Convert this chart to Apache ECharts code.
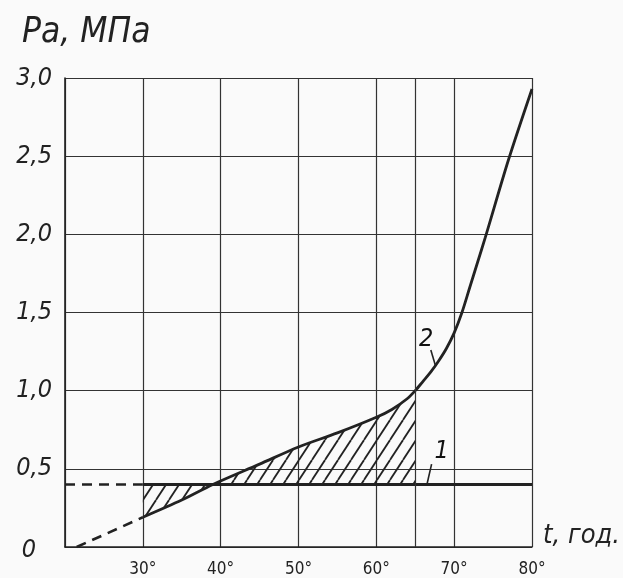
<!DOCTYPE html>
<html>
<head>
<meta charset="utf-8">
<script src="https://cdn.jsdelivr.net/npm/echarts@6/dist/echarts.min.js"></script>
<style>html,body{margin:0;padding:0;background:#fafafa;}#c{width:623px;height:578px;}</style>
</head>
<body>
<div id="c"></div>
<script>
// ---- data ----
const xTickValues = [30, 40, 50, 60, 70, 80];
const xTickLabels = ['30°', '40°', '50°', '60°', '70°', '80°'];
const yTickValues = [0, 0.5, 1.0, 1.5, 2.0, 2.5, 3.0];
const yTickLabels = ['0', '0,5', '1,0', '1,5', '2,0', '2,5', '3,0'];

// line 1 (constant level)
const line1DashedX = [20, 30];
const line1DashedY = [0.4, 0.4];
const line1X = [30, 80];
const line1Y = [0.4, 0.4];

// curve 2
const curve2DashedX = [21.5, 30];
const curve2DashedY = [0, 0.19];
const curve2X = [30, 35, 39, 45, 50, 55, 60, 62, 64, 65, 66, 67, 68, 69, 70, 71, 72, 73, 74, 77, 80];
const curve2Y = [0.19, 0.30, 0.40, 0.53, 0.64, 0.73, 0.83, 0.88, 0.95, 1.00, 1.06, 1.12, 1.19, 1.27, 1.37, 1.50, 1.66, 1.82, 1.98, 2.48, 2.93];

// hatched zone limits and extra grid line
const hatchFrom = 30, hatchTo = 65;
const extraGridX = [65];

// annotations
const label1 = { text: '1', x: 68.4, y: 0.61 };
const leader1X = [67.1, 66.5], leader1Y = [0.53, 0.40];
const label2 = { text: '2', x: 66.4, y: 1.33 };
const leader2X = [67.0, 67.6], leader2Y = [1.26, 1.16];

const yAxisName = 'Pa, МПа';
const xAxisName = 't, год.';

// ---- helpers ----
const zip = (xs, ys) => xs.map((x, i) => [x, ys[i]]);
const ink = '#222';
const hand = "'DejaVu Sans Condensed','Liberation Sans Narrow','Liberation Sans',sans-serif";

const pc = document.createElement('canvas');
pc.width = 13; pc.height = 20;
const pctx = pc.getContext('2d');
pctx.strokeStyle = '#222'; pctx.lineWidth = 1.8;
[-13, 0, 13].forEach(o => { pctx.beginPath(); pctx.moveTo(o, 20); pctx.lineTo(o + 13, 0); pctx.stroke(); });

const curvePts = zip(curve2X, curve2Y).filter(p => p[0] >= hatchFrom && p[0] <= hatchTo);
const line1Level = line1Y[0];

const chart = echarts.init(document.getElementById('c'), null, { renderer: 'canvas' });
chart.setOption({
  backgroundColor: '#fafafa',
  animation: false,
  grid: { left: 65, right: 91, top: 78, bottom: 31 },
  xAxis: {
    type: 'value', min: 20, max: 80, interval: 10,
    axisLine: { show: true, lineStyle: { color: ink, width: 1.6 } },
    axisTick: { show: false },
    splitLine: { show: true, lineStyle: { color: '#333', width: 1.2 } },
    axisLabel: {
      margin: 14, color: ink, fontSize: 17, fontFamily: hand,
      formatter: v => { const i = xTickValues.indexOf(v); return i >= 0 ? xTickLabels[i] : ''; }
    }
  },
  yAxis: {
    type: 'value', min: 0, max: 3, interval: 0.5,
    axisLine: { show: true, lineStyle: { color: ink, width: 1.6 } },
    axisTick: { show: false },
    splitLine: { show: true, lineStyle: { color: '#333', width: 1.2 } },
    axisLabel: {
      margin: 13, color: ink, fontSize: 25, fontStyle: 'italic', fontFamily: hand,
      formatter: v => {
        const i = yTickValues.findIndex(t => Math.abs(t - v) < 1e-9);
        if (i < 0) return '';
        return v === 0 ? '{z|' + yTickLabels[i] + '}' : yTickLabels[i];
      },
      rich: { z: { fontSize: 25, fontStyle: 'italic', fontFamily: hand, color: ink, padding: [6, 16, 0, 0] } }
    }
  },
  graphic: [
    { type: 'text', left: 22, top: 15, style: { text: yAxisName, fontSize: 35, fontStyle: 'italic', fontFamily: hand, fill: ink } },
    { type: 'text', left: 543, top: 522, style: { text: xAxisName, fontSize: 27, fontStyle: 'italic', fontFamily: hand, fill: ink } }
  ],
  series: [
    {
      type: 'custom', silent: true, z: 1,
      data: [0],
      renderItem: (params, api) => {
        const pts = curvePts.map(p => api.coord(p));
        pts.push(api.coord([hatchTo, line1Level]));
        pts.push(api.coord([hatchFrom, line1Level]));
        return { type: 'polygon', shape: { points: pts }, style: { fill: { image: pc, repeat: 'repeat' }, stroke: null } };
      }
    },
    {
      type: 'line', data: zip(line1DashedX, line1DashedY), symbol: 'none', z: 3,
      lineStyle: { color: ink, width: 2.6, type: [10, 7] }
    },
    {
      type: 'line', data: zip(line1X, line1Y), symbol: 'none', z: 3,
      lineStyle: { color: ink, width: 3 },
      markLine: {
        silent: true, symbol: 'none', label: { show: false },
        lineStyle: { color: '#333', width: 1.2, type: 'solid' },
        data: extraGridX.map(x => ({ xAxis: x }))
      }
    },
    {
      type: 'line', data: zip(curve2DashedX, curve2DashedY), symbol: 'none', z: 3,
      lineStyle: { color: ink, width: 2.6, type: [10, 7] }
    },
    {
      type: 'line', data: zip(curve2X, curve2Y), symbol: 'none', z: 3,
      smooth: 0.3,
      lineStyle: { color: ink, width: 2.8 }
    },
    { type: 'line', data: zip(leader1X, leader1Y), symbol: 'none', z: 3, lineStyle: { color: ink, width: 1.6 } },
    { type: 'line', data: zip(leader2X, leader2Y), symbol: 'none', z: 3, lineStyle: { color: ink, width: 1.6 } },
    {
      type: 'scatter', symbolSize: 0, z: 4, silent: true,
      data: [[label1.x, label1.y, label1.text], [label2.x, label2.y, label2.text]],
      itemStyle: { opacity: 1 },
      label: { show: true, position: 'inside', formatter: p => p.data[2], color: '#111', fontSize: 25, fontStyle: 'italic', fontFamily: hand, textBorderWidth: 0 }
    }
  ]
});
</script>
</body>
</html>
